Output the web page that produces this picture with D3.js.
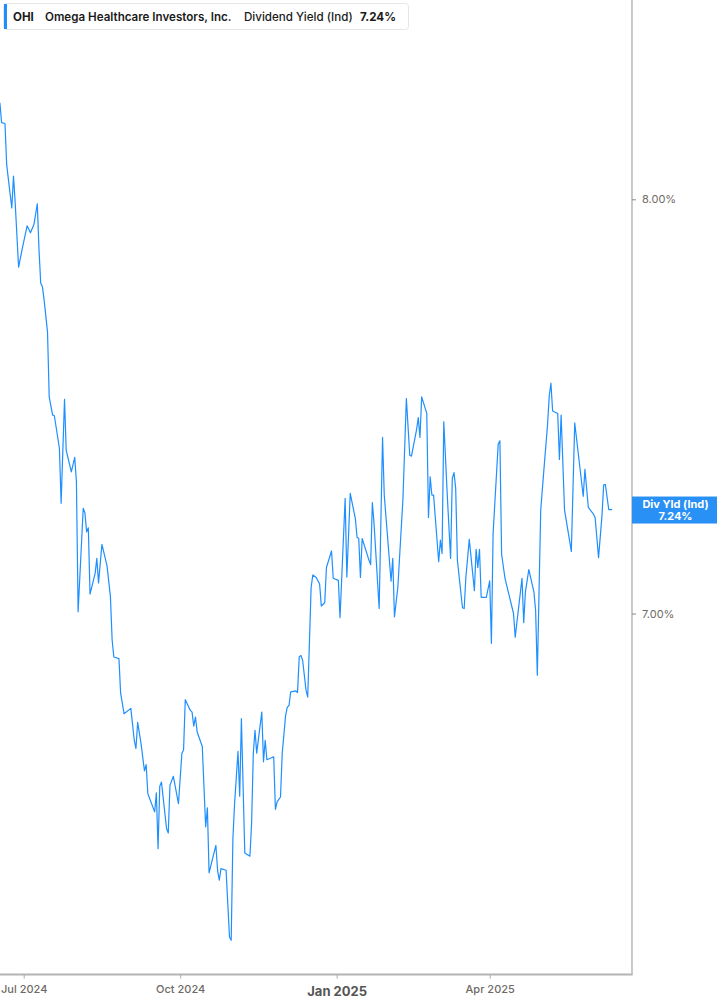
<!DOCTYPE html>
<html><head><meta charset="utf-8">
<script src="https://cdn.jsdelivr.net/npm/d3@7"></script>
<style>
html,body{margin:0;padding:0;background:#fff;}
svg{display:block;font-family:Inter,"Noto Sans",sans-serif;}
</style></head>
<body>
<svg id="chart" width="717" height="1005"></svg>
<script>
const ticker = "OHI";
const company = "Omega Healthcare Investors, Inc.";
const metric = "Dividend Yield (Ind)";
const currentYield = 7.24;
const badgeTitle = "Div Yld (Ind)";

const dates = [
"2024-06-17","2024-06-18","2024-06-20","2024-06-21","2024-06-24","2024-06-25","2024-06-26","2024-06-28","2024-06-30","2024-07-01",
"2024-07-03","2024-07-05","2024-07-07","2024-07-09","2024-07-10","2024-07-11","2024-07-12","2024-07-13","2024-07-15","2024-07-16",
"2024-07-18","2024-07-19","2024-07-22","2024-07-23","2024-07-25","2024-07-26","2024-07-29","2024-07-31","2024-08-01","2024-08-02",
"2024-08-05","2024-08-06","2024-08-07","2024-08-08","2024-08-09","2024-08-12","2024-08-13","2024-08-14","2024-08-16","2024-08-19",
"2024-08-21","2024-08-22","2024-08-23","2024-08-26","2024-08-27","2024-08-28","2024-08-29","2024-09-02","2024-09-04","2024-09-05",
"2024-09-06","2024-09-08","2024-09-10","2024-09-11","2024-09-12","2024-09-16","2024-09-17","2024-09-18","2024-09-19","2024-09-20",
"2024-09-23","2024-09-24","2024-09-25","2024-09-27","2024-09-30","2024-10-02","2024-10-03","2024-10-04","2024-10-07","2024-10-08",
"2024-10-09","2024-10-10","2024-10-11","2024-10-14","2024-10-16","2024-10-17","2024-10-18","2024-10-22","2024-10-23","2024-10-24",
"2024-10-25","2024-10-28","2024-10-30","2024-10-31","2024-11-01","2024-11-02","2024-11-04","2024-11-05","2024-11-06","2024-11-08",
"2024-11-11","2024-11-12","2024-11-13","2024-11-14","2024-11-15","2024-11-18","2024-11-19","2024-11-20","2024-11-21","2024-11-25",
"2024-11-26","2024-11-27","2024-11-29","2024-11-30","2024-12-02","2024-12-03","2024-12-04","2024-12-05","2024-12-08","2024-12-09",
"2024-12-10","2024-12-11","2024-12-12","2024-12-14","2024-12-15","2024-12-17","2024-12-18","2024-12-20","2024-12-22","2024-12-23",
"2024-12-25","2024-12-26","2024-12-29","2024-12-30","2025-01-02","2025-01-03","2025-01-06","2025-01-07","2025-01-09","2025-01-12",
"2025-01-13","2025-01-14","2025-01-15","2025-01-16","2025-01-20","2025-01-21","2025-01-22","2025-01-23","2025-01-26","2025-01-28",
"2025-01-29","2025-02-02","2025-02-03","2025-02-04","2025-02-06","2025-02-09","2025-02-11","2025-02-13","2025-02-14","2025-02-17",
"2025-02-18","2025-02-19","2025-02-20","2025-02-23","2025-02-24","2025-02-25","2025-02-26","2025-02-27","2025-03-02","2025-03-03",
"2025-03-04","2025-03-05","2025-03-07","2025-03-09","2025-03-10","2025-03-11","2025-03-12","2025-03-13","2025-03-16","2025-03-17",
"2025-03-18","2025-03-20","2025-03-23","2025-03-24","2025-03-25","2025-03-26","2025-03-27","2025-03-30","2025-04-01","2025-04-02",
"2025-04-03","2025-04-06","2025-04-07","2025-04-08","2025-04-10","2025-04-15","2025-04-16","2025-04-20","2025-04-21","2025-04-22",
"2025-04-24","2025-04-27","2025-04-28","2025-04-29","2025-05-01","2025-05-03","2025-05-05","2025-05-06","2025-05-07","2025-05-08",
"2025-05-11","2025-05-12","2025-05-13","2025-05-15","2025-05-19","2025-05-21","2025-05-26","2025-05-27","2025-05-29","2025-06-01",
"2025-06-02","2025-06-04","2025-06-06","2025-06-07","2025-06-08","2025-06-10","2025-06-12"
];

const yields = [
8.233,8.185,8.183,8.083,7.979,8.056,7.991,7.836,7.878,7.897,
7.936,7.919,7.939,7.989,7.878,7.798,7.789,7.757,7.680,7.523,
7.479,7.478,7.399,7.266,7.517,7.394,7.342,7.377,7.318,7.004,
7.254,7.243,7.197,7.207,7.047,7.097,7.133,7.074,7.167,7.115,
7.040,6.936,6.895,6.891,6.807,6.783,6.758,6.771,6.694,6.674,
6.737,6.686,6.620,6.635,6.565,6.521,6.567,6.432,6.583,6.593,
6.481,6.470,6.585,6.607,6.541,6.662,6.671,6.792,6.766,6.762,
6.728,6.750,6.714,6.679,6.485,6.531,6.374,6.440,6.380,6.356,
6.384,6.380,6.219,6.211,6.456,6.541,6.667,6.559,6.746,6.422,
6.414,6.493,6.662,6.718,6.663,6.762,6.642,6.694,6.647,6.654,
6.527,6.545,6.557,6.662,6.754,6.774,6.778,6.811,6.813,6.809,
6.895,6.899,6.887,6.815,6.798,7.063,7.093,7.087,7.071,7.018,
7.026,7.111,7.151,7.085,7.080,6.990,7.278,7.088,7.290,7.229,
7.184,7.181,7.087,7.181,7.129,7.118,7.268,7.217,7.012,7.425,
7.286,7.078,7.133,6.992,7.064,7.278,7.519,7.382,7.380,7.444,
7.473,7.425,7.523,7.483,7.232,7.330,7.286,7.286,7.125,7.177,
7.145,7.463,7.290,7.133,7.326,7.340,7.302,7.129,7.014,7.012,
7.088,7.179,7.055,7.155,7.111,7.155,7.039,7.039,7.079,6.928,
7.193,7.409,7.417,7.143,7.085,7.000,6.943,7.085,6.978,7.052,
7.106,7.052,7.008,6.851,7.250,7.354,7.455,7.525,7.556,7.489,
7.483,7.372,7.479,7.250,7.150,7.460,7.283,7.348,7.256,7.240,
7.231,7.135,7.235,7.310,7.312,7.251,7.251
];

const yTickValues = [7.0, 8.0];
const xTickDates = ["2024-07-01","2024-10-01","2025-01-01","2025-04-01"];
const xTickLabels = ["Jul 2024","Oct 2024","Jan 2025","Apr 2025"];
const xTickBold = [false,false,true,false];

const parse = d3.utcParse("%Y-%m-%d");
const data = dates.map((d,i)=>({date:parse(d), v:yields[i]}));

const svg = d3.select("#chart");
const W = 717, H = 1005;
const plotRight = 632, plotBottom = 974.5;

const x = d3.scaleUtc()
  .domain([parse("2024-07-01"), parse("2025-04-01")])
  .range([23.7, 489.7]);
const y = d3.scaleLinear().domain([7, 8]).range([613.5, 199.3]);

// axes frame
svg.append("line").attr("x1",plotRight).attr("x2",plotRight).attr("y1",0).attr("y2",plotBottom)
  .attr("stroke","#a6a6a6").attr("stroke-width",1.2);
svg.append("line").attr("x1",0).attr("x2",plotRight+0.6).attr("y1",plotBottom).attr("y2",plotBottom)
  .attr("stroke","#b3b3b3").attr("stroke-width",1.8);

// y axis
const yAxis = d3.axisRight(y).tickValues(yTickValues).tickSize(4).tickPadding(6)
  .tickFormat(d=>d3.format(".2f")(d)+"%");
const gy = svg.append("g").attr("transform",`translate(${plotRight},0)`).call(yAxis);
gy.select(".domain").remove();
gy.selectAll(".tick line").attr("stroke","#888");
gy.selectAll(".tick text").attr("fill","#6e6a66").style("font-size","11px").style("font-family","Inter, sans-serif");

// x axis
const xAxis = d3.axisBottom(x).tickValues(xTickDates.map(parse)).tickSize(3.5).tickPadding(5)
  .tickFormat((d,i)=>xTickLabels[i]);
const gx = svg.append("g").attr("transform",`translate(0,${plotBottom+0.5})`).call(xAxis);
gx.select(".domain").remove();
gx.selectAll(".tick line").attr("stroke","#aaa");
gx.selectAll(".tick text")
  .attr("fill",(d,i)=>xTickBold[i]?"#555":"#6e6a66")
  .style("font-size",(d,i)=>xTickBold[i]?"13px":"11px")
  .style("font-weight",(d,i)=>xTickBold[i]?"700":"500")
  .attr("y",(d,i)=>xTickBold[i]?12:10)
  .attr("dy",(d,i)=>xTickBold[i]?"0.71em":"0.71em")
  .style("font-family","Inter, sans-serif");

// line
const line = d3.line().x(d=>x(d.date)).y(d=>y(d.v));
svg.append("path").datum(data).attr("d",line)
  .attr("fill","none").attr("stroke","#1e8fff").attr("stroke-width",1.2)
  .attr("stroke-linejoin","round");

// end badge
const last = data[data.length-1];
const by = y(last.v);
const badge = svg.append("g");
badge.append("rect").attr("x",plotRight).attr("y",by-13).attr("width",W-plotRight).attr("height",27)
  .attr("fill","#2990f5");
badge.append("text").attr("x",(plotRight+W)/2+1).attr("y",by-1.5).attr("text-anchor","middle")
  .attr("fill","#fff").style("font-size","11px").style("font-weight","700").text(badgeTitle);
badge.append("text").attr("x",(plotRight+W)/2+1).attr("y",by+10.5).attr("text-anchor","middle")
  .attr("fill","#fff").style("font-size","11px").style("font-weight","700").text(d3.format(".2f")(currentYield)+"%");

// legend
const lg = svg.append("g");
lg.append("rect").attr("x",3.5).attr("y",3.5).attr("width",405).attr("height",26).attr("rx",3)
  .attr("fill","#fff").attr("stroke","#e6e6e6");
lg.append("rect").attr("x",4).attr("y",4).attr("width",3).attr("height",25).attr("fill","#1e8fff");
const ty = 20.5;
const fs = "11.6px";
lg.append("text").attr("x",13).attr("y",ty).attr("fill","#1a1a1a").style("font-size",fs).style("font-weight","700").text(ticker);
lg.append("text").attr("x",45).attr("y",ty).attr("fill","#1a1a1a").style("font-size",fs).style("font-weight","600").text(company);
lg.append("text").attr("x",244).attr("y",ty).attr("fill","#1a1a1a").style("font-size",fs).style("font-weight","500").text(metric);
lg.append("text").attr("x",360).attr("y",ty).attr("fill","#1a1a1a").style("font-size",fs).style("font-weight","700").text(d3.format(".2f")(currentYield)+"%");
</script>
</body></html>
